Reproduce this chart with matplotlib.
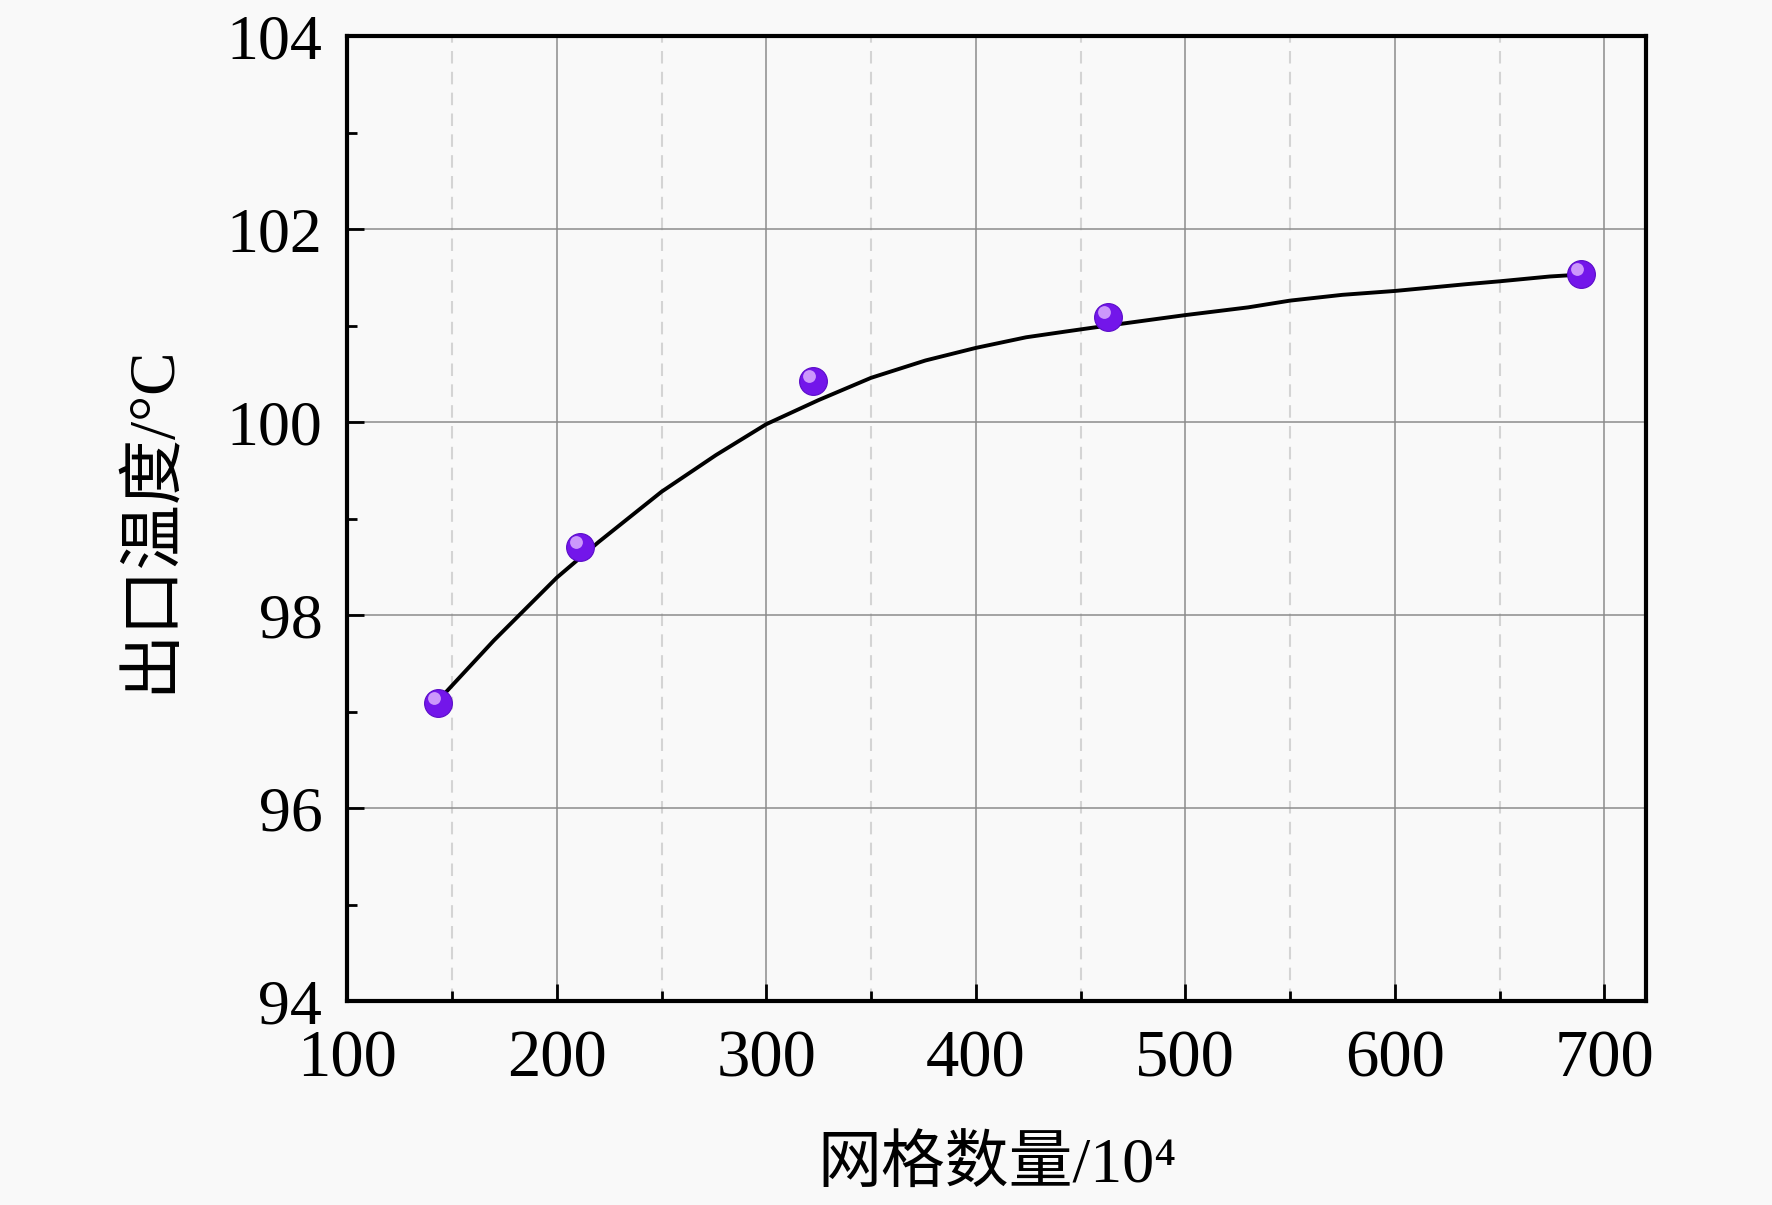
import matplotlib
matplotlib.use('Agg')
import matplotlib.pyplot as plt
from matplotlib.ticker import MultipleLocator

plt.rcParams['font.family'] = ['Liberation Serif', 'Noto Sans CJK SC']

# measured points (grid count /10^4, outlet temperature)
grid_count = [143.5, 211.3, 322.2, 463.2, 689.0]
outlet_temp = [97.09, 98.71, 100.43, 101.09, 101.54]

# fitted curve
fit_x = [143.5, 170, 200, 220, 250, 276, 300, 325, 350, 376, 400, 424, 443,
         456, 483, 500, 530, 550, 575, 600, 634, 650, 674, 689]
fit_y = [97.12, 97.74, 98.39, 98.76, 99.28, 99.66, 99.98, 100.23, 100.46,
         100.64, 100.77, 100.88, 100.94, 100.98, 101.06, 101.11, 101.19,
         101.26, 101.32, 101.36, 101.43, 101.46, 101.51, 101.53]

bg = '#f9f9f9'
fig = plt.figure(figsize=(17.72, 12.05), dpi=100, facecolor=bg)
ax = fig.add_axes([0.196, 0.169, 0.733, 0.801], facecolor=bg)

ax.plot(fit_x, fit_y, color='black', lw=2.8, solid_joinstyle='round',
        solid_capstyle='round', zorder=3)
# sphere-like markers: body + highlight
ax.scatter(grid_count, outlet_temp, s=400, color='#7316ea', zorder=4,
           edgecolors='#5a0cc8', linewidths=0.8)
hl_x = [v - 2.0 for v in grid_count]
hl_y = [v + 0.05 for v in outlet_temp]
ax.scatter(hl_x, hl_y, s=85, color='#dcb0ff', alpha=0.85, linewidths=0, zorder=5)

ax.set_xlim(100, 720)
ax.set_ylim(94, 104)
ax.xaxis.set_major_locator(MultipleLocator(100))
ax.xaxis.set_minor_locator(MultipleLocator(50))
ax.yaxis.set_major_locator(MultipleLocator(2))
ax.yaxis.set_minor_locator(MultipleLocator(1))

ax.grid(which='major', color='#8c8c8c', lw=1.1, zorder=0)
ax.grid(which='minor', axis='x', color='#d4d4d4', lw=1.5, ls=(0, (6, 4)), zorder=0)

ax.tick_params(which='both', direction='in', width=2, top=False, right=False)
ax.tick_params(which='major', length=12)
ax.tick_params(which='minor', length=7)
ax.tick_params(axis='x', labelsize=48, pad=20)
ax.tick_params(axis='y', labelsize=46, pad=18)

for sp in ax.spines.values():
    sp.set_linewidth(3)

ax.set_xlabel('网格数量/10⁴', fontsize=46, labelpad=34)
ax.set_ylabel('出口温度/°C', fontsize=47, labelpad=32)

fig.savefig('out.png', dpi=100, facecolor=bg)
